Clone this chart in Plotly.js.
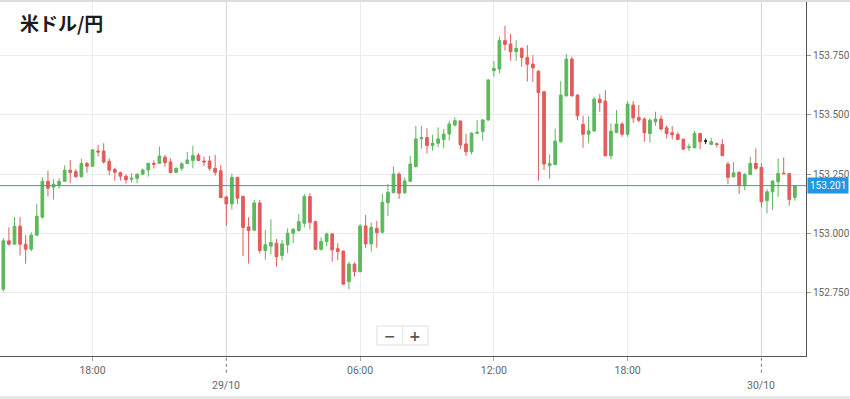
<!DOCTYPE html>
<html><head><meta charset="utf-8">
<script src="https://cdn.plot.ly/plotly-3.0.1.min.js"></script>
<style>html,body{margin:0;padding:0;background:#fff;}#chart{width:850px;height:399px;}</style>
</head><body><div id="chart"></div>
<script>
// 15-minute candles, USD/JPY, starting 28/10 14:00
const startTime = Date.UTC(2024, 9, 28, 14, 0);
const stepMinutes = 15;

const openP = [152.764,152.968,152.954,153.030,152.954,152.933,152.992,153.068,153.219,153.194,
153.204,153.219,153.266,153.260,153.239,153.294,153.283,153.347,153.347,153.304,
153.270,153.256,153.241,153.228,153.232,153.249,153.267,153.295,153.295,153.321,
153.301,153.257,153.274,153.294,153.307,153.329,153.305,153.305,153.274,153.264,
153.153,153.124,153.236,153.155,153.027,153.013,153.128,152.927,152.946,152.958,
152.906,152.951,153.000,153.011,153.042,153.155,153.049,152.932,152.965,152.997,
152.935,152.925,152.796,152.870,152.838,153.031,152.955,153.021,153.004,153.129,
153.171,153.250,153.171,153.219,153.281,153.399,153.404,153.370,153.380,153.396,
153.419,153.457,153.474,153.377,153.344,153.422,153.429,153.478,153.686,153.693,
153.813,153.799,153.766,153.780,153.742,153.714,153.684,153.597,153.285,153.290,
153.386,153.580,153.735,153.583,153.459,153.418,153.432,153.566,153.558,153.327,
153.425,153.461,153.418,153.541,153.489,153.482,153.421,153.470,153.482,153.445,
153.424,153.417,153.397,153.361,153.361,153.421,153.389,153.375,153.378,153.375,
153.292,153.238,153.257,153.203,153.248,153.295,153.278,153.137,153.175,153.217,
153.254,153.252,153.151];
const highP = [152.979,153.025,153.068,153.068,152.992,153.004,153.124,153.236,153.264,153.228,
153.232,153.287,153.309,153.271,153.314,153.301,153.354,153.373,153.380,153.316,
153.277,153.260,153.248,153.253,153.253,153.273,153.298,153.307,153.366,153.331,
153.316,153.277,153.300,153.343,153.370,153.338,153.324,153.326,153.331,153.288,
153.158,153.252,153.238,153.160,153.068,153.141,153.141,153.014,153.059,152.976,
152.972,153.021,153.021,153.081,153.166,153.169,153.053,152.983,153.003,153.000,
152.958,152.927,152.880,152.876,153.039,153.077,153.045,153.052,153.166,153.208,
153.281,153.257,153.236,153.326,153.453,153.453,153.443,153.415,153.447,153.440,
153.475,153.489,153.475,153.419,153.427,153.478,153.482,153.651,153.727,153.830,
153.875,153.841,153.816,153.785,153.794,153.752,153.688,153.601,153.333,153.442,
153.642,153.756,153.745,153.587,153.496,153.494,153.576,153.587,153.604,153.463,
153.520,153.468,153.558,153.558,153.541,153.489,153.485,153.513,153.497,153.456,
153.452,153.428,153.400,153.379,153.432,153.424,153.400,153.403,153.383,153.397,
153.302,153.300,153.262,153.255,153.323,153.358,153.295,153.185,153.224,153.316,
153.320,153.255,153.202];
const lowP = [152.754,152.948,152.951,152.906,152.872,152.924,152.989,153.062,153.155,153.142,
153.188,153.217,153.211,153.235,153.235,153.255,153.281,153.324,153.294,153.245,
153.222,153.222,153.210,153.214,153.211,153.246,153.239,153.273,153.294,153.281,
153.253,153.253,153.264,153.293,153.274,153.304,153.284,153.264,153.243,153.148,
153.032,153.099,153.124,152.904,152.872,153.010,152.914,152.888,152.911,152.859,
152.885,152.916,152.958,153.007,153.025,153.017,152.930,152.927,152.944,152.880,
152.887,152.782,152.764,152.817,152.835,152.937,152.923,152.939,153.000,153.073,
153.169,153.145,153.166,153.216,153.278,153.357,153.337,153.349,153.363,153.359,
153.391,153.450,153.356,153.326,153.333,153.420,153.391,153.475,153.661,153.675,
153.771,153.728,153.728,153.703,153.640,153.639,153.222,153.267,153.230,153.288,
153.383,153.577,153.577,153.477,153.361,153.379,153.428,153.513,153.324,153.313,
153.424,153.407,153.407,153.466,153.469,153.386,153.382,153.454,153.435,153.400,
153.396,153.393,153.354,153.348,153.358,153.355,153.376,153.372,153.362,153.326,
153.207,153.236,153.165,153.182,153.245,153.267,153.109,153.084,153.098,153.154,
153.251,153.116,153.137];
const closeP = [152.968,152.954,153.030,152.954,152.933,152.992,153.072,153.219,153.190,153.207,
153.219,153.266,153.256,153.239,153.294,153.283,153.352,153.343,153.301,153.266,
153.257,153.241,153.226,153.232,153.249,153.267,153.295,153.291,153.326,153.298,
153.256,153.274,153.293,153.309,153.328,153.307,153.301,153.274,153.257,153.151,
153.124,153.236,153.148,153.024,153.011,153.128,152.927,152.951,152.961,152.901,
152.955,153.000,153.017,153.049,153.155,153.046,152.932,152.965,152.997,152.930,
152.923,152.785,152.870,152.838,153.031,152.955,153.025,153.003,153.131,153.173,
153.250,153.169,153.221,153.292,153.398,153.404,153.370,153.380,153.398,153.419,
153.461,153.475,153.373,153.344,153.422,153.426,153.478,153.647,153.696,153.813,
153.797,153.766,153.780,153.742,153.713,153.698,153.594,153.292,153.295,153.389,
153.583,153.735,153.580,153.496,153.418,153.432,153.566,153.551,153.327,153.431,
153.461,153.418,153.545,153.487,153.477,153.424,153.477,153.482,153.440,153.421,
153.416,153.396,153.355,153.365,153.421,153.386,153.389,153.386,153.375,153.327,
153.236,153.255,153.203,153.248,153.295,153.274,153.133,153.175,153.220,153.252,
153.251,153.143,153.201];
const neutralIdx = [126];          // candle drawn in black (unchanged)
const lastPrice = 153.201;
const yTicks = [152.75, 153.0, 153.25, 153.5, 153.75];
const xTickTimes = ['2024-10-28 18:00','2024-10-29 06:00','2024-10-29 12:00','2024-10-29 18:00'];
const xTickLabels = ['18:00','06:00','12:00','18:00'];
const dayTimes = ['2024-10-29 00:00','2024-10-30 00:00'];
const dayLabels = ['29/10','30/10'];

function fmt(d){const p=n=>String(n).padStart(2,'0');
  return d.getUTCFullYear()+'-'+p(d.getUTCMonth()+1)+'-'+p(d.getUTCDate())+' '+p(d.getUTCHours())+':'+p(d.getUTCMinutes());}
const times = openP.map((_, i) => fmt(new Date(startTime + i*stepMinutes*60000)));

function pick(arr, keep){return arr.filter((_, i) => keep(i));}
const isN = i => neutralIdx.includes(i);
const GREEN = '#5cb85c', RED = '#e25c5c';

const main = {
  type:'candlestick',
  x: pick(times, i=>!isN(i)), open: pick(openP, i=>!isN(i)), high: pick(highP, i=>!isN(i)),
  low: pick(lowP, i=>!isN(i)), close: pick(closeP, i=>!isN(i)),
  increasing:{line:{color:GREEN, width:1}, fillcolor:GREEN},
  decreasing:{line:{color:RED, width:1}, fillcolor:RED},
  hoverinfo:'skip', showlegend:false
};
const neutral = {
  type:'candlestick',
  x: pick(times, isN), open: pick(openP, isN), high: pick(highP, isN),
  low: pick(lowP, isN), close: pick(closeP, isN),
  increasing:{line:{color:'#111', width:1}, fillcolor:'#111'},
  decreasing:{line:{color:'#111', width:1}, fillcolor:'#111'},
  hoverinfo:'skip', showlegend:false
};

const shapes = [];
dayTimes.forEach(t => {
  shapes.push({type:'line', xref:'x', yref:'paper', x0:t, x1:t, y0:0, y1:1, line:{color:'#d4d4d4', width:1}, layer:'below'});
  shapes.push({type:'line', xref:'x', yref:'paper', x0:t, x1:t, y0:-0.005, y1:-0.048, line:{color:'#777', width:1, dash:'dot'}});
});
shapes.push({type:'line', xref:'paper', yref:'y', x0:0, x1:1, y0:lastPrice, y1:lastPrice, line:{color:'#2a9cc8', width:1}});
// top and bottom page bands
shapes.push({type:'rect', xref:'paper', yref:'paper', x0:0, x1:1.06, y0:1.0, y1:1.008, fillcolor:'#dcdcdc', line:{width:0}});
shapes.push({type:'rect', xref:'paper', yref:'paper', x0:0, x1:1.06, y0:-0.125, y1:-0.113, fillcolor:'#e6e6e6', line:{width:0}});
// zoom buttons box
shapes.push({type:'rect', xref:'paper', yref:'paper', x0:0.4677, x1:0.531, y0:0.031, y1:0.0847, fillcolor:'#ffffff', line:{color:'#dedede', width:1}});
shapes.push({type:'line', xref:'paper', yref:'paper', x0:0.4995, x1:0.4995, y0:0.031, y1:0.0847, line:{color:'#e6e6e6', width:1}});

const annotations = [];
dayTimes.forEach((t, k) => annotations.push({xref:'x', yref:'paper', x:t, y:-0.082, text:dayLabels[k], showarrow:false,
  xanchor:'center', yanchor:'middle', font:{family:'Roboto', size:10.5, color:'#666'}}));
annotations.push({xref:'paper', yref:'y', x:1, y:lastPrice, xanchor:'left', yanchor:'middle', xshift:1,
  text:lastPrice.toFixed(3), showarrow:false, bgcolor:'#2196e3', borderpad:2,
  font:{family:'Roboto', size:10, color:'#ffffff'}});
annotations.push({xref:'paper', yref:'paper', x:0.484, y:0.0578, text:'<b>−</b>', showarrow:false, xanchor:'center', yanchor:'middle', font:{family:'DejaVu Sans', size:14, color:'#555'}});
annotations.push({xref:'paper', yref:'paper', x:0.515, y:0.0578, text:'<b>+</b>', showarrow:false, xanchor:'center', yanchor:'middle', font:{family:'DejaVu Sans', size:14, color:'#555'}});

const layout = {
  width:850, height:399,
  margin:{l:0, r:44, t:2, b:43},
  paper_bgcolor:'#ffffff', plot_bgcolor:'#ffffff',
  showlegend:false,
  title:{text:'<b>米ドル/円</b>', font:{family:'Noto Sans CJK JP', size:19, color:'#1c1c1c'},
    xref:'container', x:20/850, xanchor:'left', yref:'container', y:1-24/399, yanchor:'middle'},
  xaxis:{type:'date', range:['2024-10-28 13:51','2024-10-30 02:00'], rangeslider:{visible:false},
    tickmode:'array', tickvals:xTickTimes, ticktext:xTickLabels,
    showgrid:true, gridcolor:'#ececec', gridwidth:1,
    ticks:'outside', ticklen:4, tickcolor:'#aaa',
    showline:true, linecolor:'#555', linewidth:1, zeroline:false,
    tickfont:{family:'Roboto', size:10.5, color:'#666'}},
  yaxis:{side:'right', range:[152.482, 153.976], tickmode:'array', tickvals:yTicks,
    ticktext:yTicks.map(v=>v.toFixed(3)),
    showgrid:true, gridcolor:'#ececec', gridwidth:1,
    ticks:'outside', ticklen:4, tickcolor:'#999',
    showline:true, linecolor:'#555', linewidth:1, zeroline:false,
    tickfont:{family:'Roboto', size:10, color:'#666'}},
  shapes, annotations
};

Plotly.newPlot('chart', [main, neutral], layout, {displayModeBar:false, staticPlot:true});
</script>
</body></html>
